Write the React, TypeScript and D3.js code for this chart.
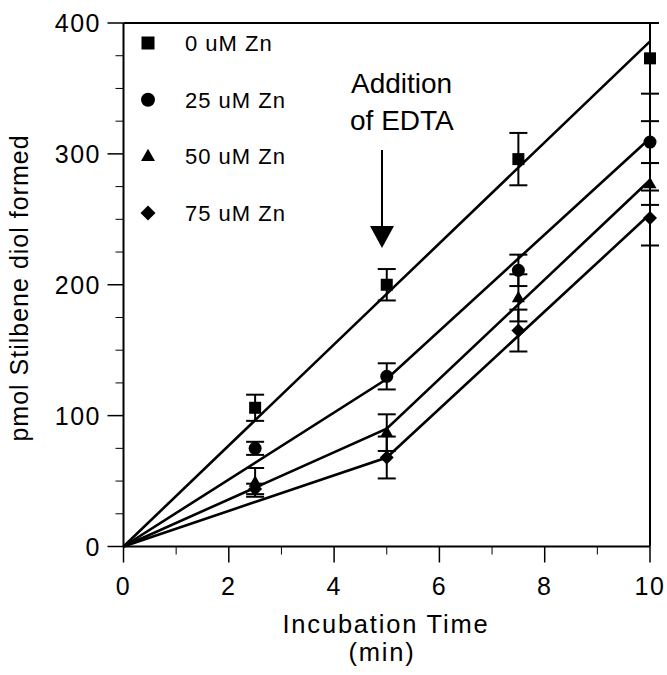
import React from "react";
import * as d3 from "d3";

const times = [2.5, 5, 7.5, 10];
const seriesNames = ["0 uM Zn", "25 uM Zn", "50 uM Zn", "75 uM Zn"];
const symbolsKind = ["square", "circle", "triangle", "diamond"];
const zn0 = [106, 200, 296, 373];
const zn0Err = [10, 12, 20, 27];
const zn25 = [75, 130, 211, 309];
const zn25Err = [5, 10, 12, 16];
const zn50 = [49, 87, 190, 277];
const zn50Err = [11, 14, 18, 16];
const zn75 = [44, 68, 165, 251];
const zn75Err = [4, 16, 16, 21];
const fitTimes = [0, 5, 10];
const fit0 = [0, 193, 386];
const fit25 = [0, 128, 312];
const fit50 = [0, 90, 280];
const fit75 = [0, 68, 254];
const xTicks = [0, 2, 4, 6, 8, 10];
const xMinor = [1, 3, 5, 7, 9];
const yTicks = [0, 100, 200, 300, 400];
const yMinor = d3.range(25, 400, 25).filter((v) => v % 100 !== 0);

const values = [zn0, zn25, zn50, zn75];
const errs = [zn0Err, zn25Err, zn50Err, zn75Err];
const fits = [fit0, fit25, fit50, fit75];

const FONT = "'Liberation Sans', Arial, Helvetica, sans-serif";

function Marker({ kind, x, y, s }: { kind: string; x: number; y: number; s: number }) {
  if (kind === "square")
    return <rect x={x - s / 2} y={y - s / 2} width={s} height={s} fill="#000" />;
  if (kind === "circle") return <circle cx={x} cy={y} r={s / 2 + 0.5} fill="#000" />;
  if (kind === "triangle") {
    const h = s * 0.95;
    return (
      <path
        d={`M${x},${y - h * 0.62} L${x + s / 2 + 0.5},${y + h * 0.38} L${x - s / 2 - 0.5},${y + h * 0.38} Z`}
        fill="#000"
      />
    );
  }
  const r = s / 2 + 1;
  return <path d={`M${x},${y - r} L${x + r},${y} L${x},${y + r} L${x - r},${y} Z`} fill="#000" />;
}

export default function App() {
  const W = 667;
  const H = 675;
  const x = d3.scaleLinear().domain([0, 10]).range([123.5, 650]);
  const y = d3.scaleLinear().domain([0, 400]).range([546.5, 23]);
  const line = d3
    .line<number>()
    .x((_, i) => x(fitTimes[i]))
    .y((d) => y(d));

  return (
    <svg
      width={W}
      height={H}
      style={{ position: "absolute", left: 0, top: 0, background: "#fff" }}
      fontFamily={FONT}
    >
      <rect width={W} height={H} fill="#fff" />
      {/* frame */}
      <line x1={x(0)} x2={x(10)} y1={y(0)} y2={y(0)} stroke="#000" strokeWidth={2} />
      <line x1={x(0)} x2={x(0)} y1={y(0)} y2={y(400)} stroke="#000" strokeWidth={2} />
      <line x1={x(0)} x2={x(10)} y1={y(400)} y2={y(400)} stroke="#000" strokeWidth={2} />
      <line x1={x(10)} x2={x(10)} y1={y(0)} y2={y(400)} stroke="#000" strokeWidth={2} />

      {/* y ticks */}
      {yTicks.map((t) => (
        <g key={"yt" + t}>
          <line x1={x(0) - 16} x2={x(0)} y1={y(t)} y2={y(t)} stroke="#000" strokeWidth={1.5} />
          <text
            x={101}
            y={y(t)}
            dy="0.36em"
            textAnchor="end"
            fontSize={25}
            letterSpacing={1.5}
            fill="#000"
          >
            {t}
          </text>
        </g>
      ))}
      {yMinor.map((t) => (
        <line key={"ym" + t} x1={x(0) - 8} x2={x(0)} y1={y(t)} y2={y(t)} stroke="#000" strokeWidth={1} />
      ))}

      {/* x ticks */}
      {xTicks.map((t) => (
        <g key={"xt" + t}>
          <line x1={x(t)} x2={x(t)} y1={y(0)} y2={y(0) + 16} stroke="#000" strokeWidth={1.5} />
          <text x={x(t)} y={595} textAnchor="middle" fontSize={25} letterSpacing={1.5} fill="#000">
            {t}
          </text>
        </g>
      ))}
      {xMinor.map((t) => (
        <line key={"xm" + t} x1={x(t)} x2={x(t)} y1={y(0)} y2={y(0) + 8} stroke="#000" strokeWidth={1} />
      ))}

      {/* axis titles */}
      <text x={386} y={633} textAnchor="middle" fontSize={25.5} letterSpacing={1.8} fill="#000">
        Incubation Time
      </text>
      <text x={382} y={661} textAnchor="middle" fontSize={25.5} letterSpacing={1.8} fill="#000">
        (min)
      </text>
      <text
        transform={`translate(${28},${288}) rotate(-90)`}
        textAnchor="middle"
        fontSize={25}
        letterSpacing={1}
        fill="#000"
      >
        pmol Stilbene diol formed
      </text>

      {/* fit lines */}
      {fits.map((f, i) => (
        <path key={"f" + i} d={line(f) || ""} fill="none" stroke="#000" strokeWidth={2.6} />
      ))}

      {/* error bars and markers */}
      {values.map((vals, si) =>
        vals.map((v, i) => {
          const cx = x(times[i]);
          const e = errs[si][i];
          return (
            <g key={`e${si}-${i}`}>
              <line x1={cx} x2={cx} y1={y(v + e)} y2={y(v - e)} stroke="#000" strokeWidth={2} />
              <line x1={cx - 9} x2={cx + 9} y1={y(v + e)} y2={y(v + e)} stroke="#000" strokeWidth={2} />
              <line x1={cx - 9} x2={cx + 9} y1={y(v - e)} y2={y(v - e)} stroke="#000" strokeWidth={2} />
            </g>
          );
        })
      )}
      {values.map((vals, si) =>
        vals.map((v, i) => (
          <Marker key={`m${si}-${i}`} kind={symbolsKind[si]} x={x(times[i])} y={y(v)} s={12} />
        ))
      )}

      {/* legend */}
      {seriesNames.map((name, i) => {
        const ly = 43 + i * 56.7;
        return (
          <g key={"lg" + i}>
            <Marker kind={symbolsKind[i]} x={148} y={ly} s={13} />
            <text x={185} y={ly + 8} fontSize={22} letterSpacing={1} fill="#000">
              {name}
            </text>
          </g>
        );
      })}

      {/* annotation */}
      <text x={351} y={93} fontSize={28} fill="#000">
        Addition
      </text>
      <text x={350} y={130} fontSize={28} fill="#000">
        of EDTA
      </text>
      <line x1={382} x2={382} y1={150} y2={228} stroke="#000" strokeWidth={2} />
      <path d="M370,226 L394,226 L382,248 Z" fill="#000" />
    </svg>
  );
}
